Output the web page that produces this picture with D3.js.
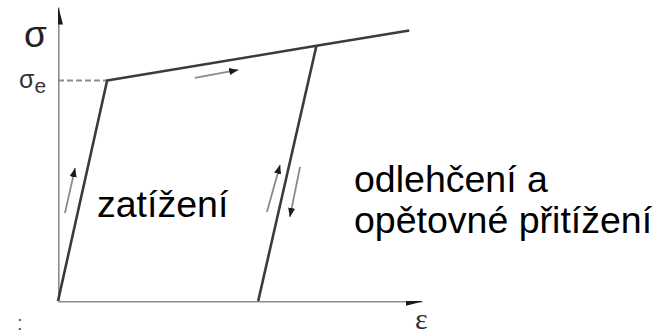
<!DOCTYPE html>
<html>
<head>
<meta charset="utf-8">
<script src="https://cdn.jsdelivr.net/npm/d3@7/dist/d3.min.js"></script>
<style>
  html, body { margin: 0; padding: 0; background: #fff; }
  svg { display: block; }
</style>
</head>
<body>
<svg id="chart" width="658" height="336"></svg>
<script>
// Idealised bilinear stress–strain diagram with unloading and reloading.
// Values are in normalised units (strain and stress both 0..1 along the axes).

// Loading curve: elastic branch to the yield point, then linear hardening
const curveStrain = [0, 0.135, 0.71, 0.965];
const curveStress = [0, 0.75, 0.868, 0.92];

// Elastic unloading / reloading branch down to the residual strain
const unloadStrain = [0.71, 0.55];
const unloadStress = [0.868, 0];

// Yield stress level (dashed reference line to the stress axis)
const yieldStress = 0.75;

// Direction arrows along the branches: [strainFrom, stressFrom, strainTo, stressTo]
const arrowNames = ["loading", "hardening", "reloading", "unloading"];
const arrowFrom = [[0.019, 0.299], [0.376, 0.759], [0.574, 0.303], [0.665, 0.456]];
const arrowTo   = [[0.047, 0.452], [0.495, 0.786], [0.610, 0.463], [0.637, 0.286]];

// Text labels
const axisLabelStress = "σ";
const axisLabelStrain = "ε";
const yieldLabel = ["σ", "e"];
const loadLabel = "zatížení";
const unloadLabel = ["odlehčení a", "opětovné přitížení"];

const svg = d3.select("#chart");
const W = 658, H = 336;

const x = d3.scaleLinear().domain([0, 1]).range([58, 422]);
const y = d3.scaleLinear().domain([0, 1]).range([301, 7]);

const defs = svg.append("defs");
function marker(id, len, half, color) {
  defs.append("marker")
    .attr("id", id)
    .attr("viewBox", `0 ${-half} ${len} ${half * 2}`)
    .attr("refX", len).attr("refY", 0)
    .attr("markerUnits", "userSpaceOnUse")
    .attr("markerWidth", len).attr("markerHeight", half * 2)
    .attr("orient", "auto")
    .append("path")
    .attr("d", `M0,${-half}L${len},0L0,${half}Z`)
    .attr("fill", color);
}
marker("axisHead", 17, 4.5, "#1a1a1a");
marker("smallHead", 9, 3.6, "#1a1a1a");

// Slight softening of the drawn lines (region in user space so flat lines keep it)
const soft = defs.append("filter").attr("id", "soft")
  .attr("filterUnits", "userSpaceOnUse")
  .attr("x", 0).attr("y", 0).attr("width", W).attr("height", H);
soft.append("feGaussianBlur").attr("stdDeviation", 0.45);

// Axes: plain lines from the scales, no ticks, arrowheads at the ends
const xAxis = svg.append("g")
  .attr("transform", `translate(0,${y(0)})`)
  .call(d3.axisBottom(x).tickValues([]).tickSizeOuter(0));
const yAxis = svg.append("g")
  .attr("transform", `translate(${x(0)},0)`)
  .call(d3.axisLeft(y).tickValues([]).tickSizeOuter(0));
[xAxis, yAxis].forEach(g => {
  g.select(".domain")
    .attr("stroke", "#8c8c8c")
    .attr("stroke-width", 2.2)
    .attr("marker-end", "url(#axisHead)")
    .attr("filter", "url(#soft)");
});

const line = d3.line().x(d => x(d[0])).y(d => y(d[1]));

// Dashed yield level
svg.append("path")
  .attr("d", line([[0, yieldStress], [curveStrain[1], yieldStress]]))
  .attr("fill", "none")
  .attr("stroke", "#8a8a8a")
  .attr("stroke-width", 2)
  .attr("stroke-dasharray", "6,3")
  .attr("filter", "url(#soft)");

// Loading curve
svg.append("path")
  .attr("d", line(curveStrain.map((e, i) => [e, curveStress[i]])))
  .attr("fill", "none")
  .attr("stroke", "#3a3a3a")
  .attr("stroke-width", 2.6)
  .attr("stroke-linejoin", "round")
  .attr("filter", "url(#soft)");

// Unloading branch
svg.append("path")
  .attr("d", line(unloadStrain.map((e, i) => [e, unloadStress[i]])))
  .attr("fill", "none")
  .attr("stroke", "#3a3a3a")
  .attr("stroke-width", 2.6)
  .attr("filter", "url(#soft)");

// Direction arrows
svg.append("g").selectAll("path")
  .data(arrowNames)
  .join("path")
  .attr("class", d => "arrow " + d)
  .attr("d", (d, i) => line([arrowFrom[i], arrowTo[i]]))
  .attr("fill", "none")
  .attr("stroke", "#8a8a8a")
  .attr("stroke-width", 1.8)
  .attr("marker-end", "url(#smallHead)")
  .attr("filter", "url(#soft)");

// Axis labels
svg.append("text")
  .attr("x", 24).attr("y", 47)
  .attr("font-family", "Liberation Sans, Arial, sans-serif")
  .attr("font-size", 37)
  .attr("fill", "#222")
  .text(axisLabelStress);

svg.append("text")
  .attr("x", 415).attr("y", 329)
  .attr("font-family", "Liberation Serif, Times New Roman, serif")
  .attr("font-size", 30)
  .attr("fill", "#333")
  .text(axisLabelStrain);

// Yield stress label on the stress axis
const yl = svg.append("text")
  .attr("x", 19).attr("y", y(yieldStress) + 7)
  .attr("font-family", "Liberation Sans, Arial, sans-serif")
  .attr("fill", "#333");
yl.append("tspan").attr("font-size", 25).text(yieldLabel[0]);
yl.append("tspan").attr("font-size", 21).attr("dy", 5).text(yieldLabel[1]);

// Stray mark near the lower-left corner
svg.append("text")
  .attr("x", 17).attr("y", 330)
  .attr("font-family", "Liberation Sans, Arial, sans-serif")
  .attr("font-size", 20)
  .attr("fill", "#555")
  .text(":");

// Region labels
const labelFont = "Liberation Sans, Arial, sans-serif";
svg.append("text")
  .attr("x", 97).attr("y", 217)
  .attr("font-family", labelFont)
  .attr("font-size", 37.5)
  .attr("fill", "#000")
  .text(loadLabel);

svg.append("text")
  .attr("x", 354).attr("y", 192)
  .attr("font-family", labelFont)
  .attr("font-size", 37.5)
  .attr("fill", "#000")
  .selectAll("tspan")
  .data(unloadLabel)
  .join("tspan")
  .attr("x", 354)
  .attr("dy", (d, i) => i === 0 ? 0 : 41)
  .text(d => d);
</script>
</body>
</html>
